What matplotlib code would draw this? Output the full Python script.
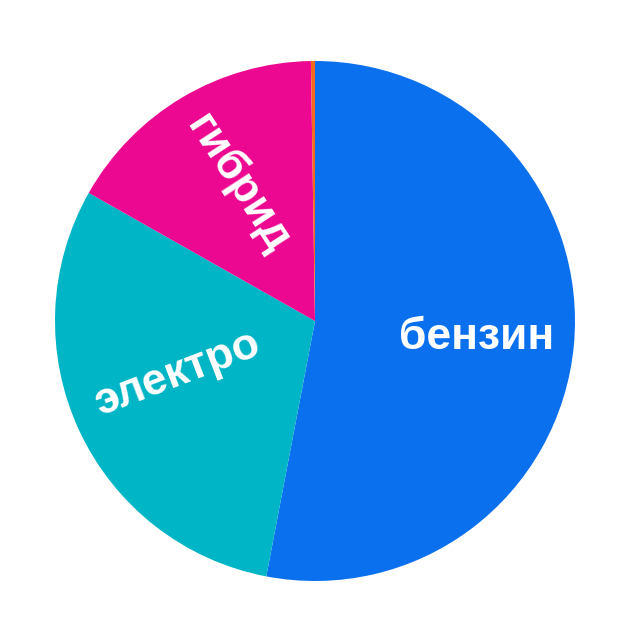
import matplotlib
matplotlib.use("Agg")
import matplotlib.pyplot as plt

# shares, clockwise from 12 o'clock
labels = ["бензин", "электро", "гибрид", ""]
shares = [53.0, 30.2, 16.55, 0.25]
colors = ["#0B70EE", "#00B5C5", "#EC0890", "#F26A1B"]

# label placement (data coords, radius 1) and rotation
label_pos = [(0.623, -0.062), (-0.527, -0.204), (-0.296, 0.527)]
label_rot = [0, 21, -57]

fig = plt.figure(figsize=(6.39, 6.32), dpi=100)
ax = fig.add_axes([55 / 639, 51 / 632, 520 / 639, 520 / 632])
ax.pie(shares, colors=colors, startangle=90, counterclock=False,
       radius=1.0, wedgeprops=dict(linewidth=0))
ax.set_xlim(-1, 1)
ax.set_ylim(-1, 1)
ax.set_aspect("equal")
ax.axis("off")

for text, (x, y), rot in zip(labels, label_pos, label_rot):
    ax.text(x, y, text, color="white", fontsize=32, fontweight="bold",
            family=["Liberation Sans", "DejaVu Sans"],
            rotation=rot, rotation_mode="anchor",
            ha="center", va="center")

fig.savefig("out.png", dpi=100)
